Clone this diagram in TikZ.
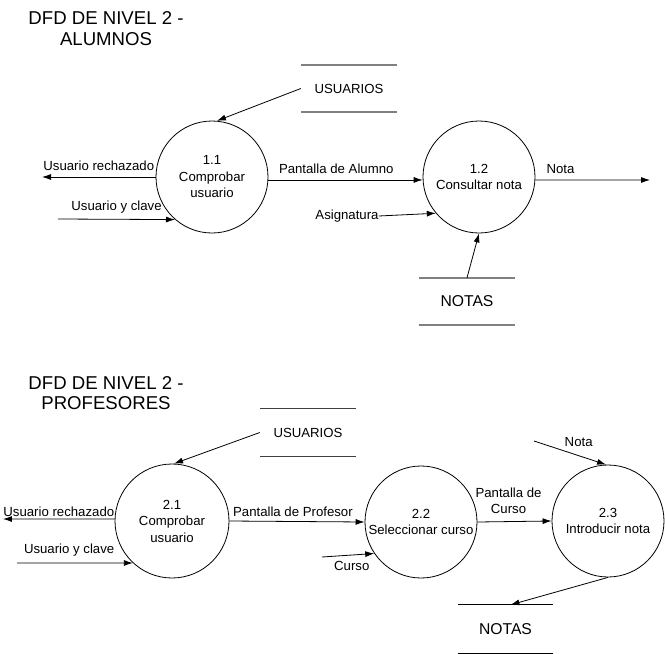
\documentclass[tikz,border=0pt]{standalone}
\usepackage{fontspec}
\setmainfont{Liberation Sans}
\usetikzlibrary{arrows.meta,positioning}
\tikzset{>={Latex[length=9pt,width=6pt]}}
\newcommand{\lblsize}{\fontsize{13.2}{16.5}\selectfont}
\newcommand{\ttlsize}{\fontsize{18.6}{20.5}\selectfont}
\tikzset{
  proc/.style={draw, circle, line width=0.8pt, minimum size=112pt, inner sep=0pt, align=center, font=\lblsize},
  store/.style={minimum width=96pt, minimum height=47pt, inner sep=0pt, font=\lblsize},
  storeline/.style={line width=2pt, gray},
  flow/.style={->, line width=0.8pt},
  flowlbl/.style={font=\lblsize, inner sep=1.5pt},
  ttl/.style={align=center, font=\ttlsize, inner sep=0pt}
}

\begin{document}
\begin{tikzpicture}[x=1pt, y=-1pt]
  \useasboundingbox (0,0) rectangle (665,654);

  % alumnos
  \node[ttl] (ttlA) at (106,28.5) {DFD DE NIVEL 2 -\\ALUMNOS};
  \node[store] (usuA) at (349,88.5) {USUARIOS};
  \node[store, font=\fontsize{15.7}{18}\selectfont] (notA) at (467,301.5) {NOTAS};
  \node[proc] (p11) at (212,177) {1.1\\Comprobar\\usuario};
  \node[proc] (p12) at (479,177) {1.2\\Consultar nota};
  \coordinate (rechA) at (42,177);
  \coordinate (claveA) at (58,219);
  \coordinate (notaA) at (650,180);
  \node[flowlbl, inner sep=0pt] (asig) at (347,216) {Asignatura};

  \draw[storeline] (usuA.north west) -- (usuA.north east) (usuA.south west) -- (usuA.south east);
  \draw[storeline] (notA.north west) -- (notA.north east) (notA.south west) -- (notA.south east);

  \draw[flow] (usuA.west) -- (p11.85);
  \draw[flow] (p11.west) -- (rechA) node[flowlbl, midway, above=4pt] {Usuario rechazado};
  \draw[flow] (claveA) -- (p11.229) node[flowlbl, midway, above=4pt] {Usuario y clave};
  \draw[flow] (p11.-3) -- (p12.183) node[flowlbl, pos=.44, above=4pt] {Pantalla de Alumno};
  \draw[flow] (p12.-3) -- (notaA) node[flowlbl, pos=.22, above=4pt] {Nota};
  \draw[flow] (asig.east) -- (p12.220);
  \draw[flow] (notA.north) -- (p12.south);

  % profesores
  \node[ttl] (ttlB) at (106,393) {DFD DE NIVEL 2 -\\PROFESORES};
  \node[store] (usuB) at (308,432.5) {USUARIOS};
  \node[store, minimum width=95pt, minimum height=48pt, font=\fontsize{15.7}{18}\selectfont] (notB) at (505.5,629) {NOTAS};
  \node[proc, minimum size=114pt] (p21) at (172,521) {2.1\\Comprobar\\usuario};
  \node[proc] (p22) at (421,522) {2.2\\Seleccionar curso};
  \node[proc] (p23) at (608,521) {2.3\\Introducir nota};
  \coordinate (rechB) at (3,519);
  \coordinate (claveB) at (17,563);
  \coordinate (cursoB) at (322,557);
  \coordinate (notaB) at (534,441);

  \draw[line width=1.3pt, black!75] (usuB.north west) -- (usuB.north east) (usuB.south west) -- (usuB.south east);
  \draw[line width=1pt] (notB.north west) -- (notB.north east) (notB.south west) -- (notB.south east);

  \draw[flow] (usuB.west) -- (p21.88);
  \draw[flow] (p21.178) -- (rechB) node[flowlbl, midway, above] {Usuario rechazado};
  \draw[flow] (claveB) -- (p21.227) node[flowlbl, pos=.45, above=5pt] {Usuario y clave};
  \draw[flow] (p21.east) -- (p22.west) node[flowlbl, pos=.47, above=3pt] {Pantalla de Profesor};
  \draw[flow] (cursoB) -- (p22.214) node[flowlbl, pos=.57, below=4pt] {Curso};
  \draw[flow] (p22.east) -- (p23.west) node[flowlbl, pos=.42, above=6pt, align=center] {Pantalla de\\Curso};
  \draw[flow] (notaB) -- (p23.92) node[flowlbl, pos=.62, above=7pt] {Nota};
  \draw[flow] (p23.south) -- ([xshift=5pt]notB.north);
\end{tikzpicture}
\end{document}
